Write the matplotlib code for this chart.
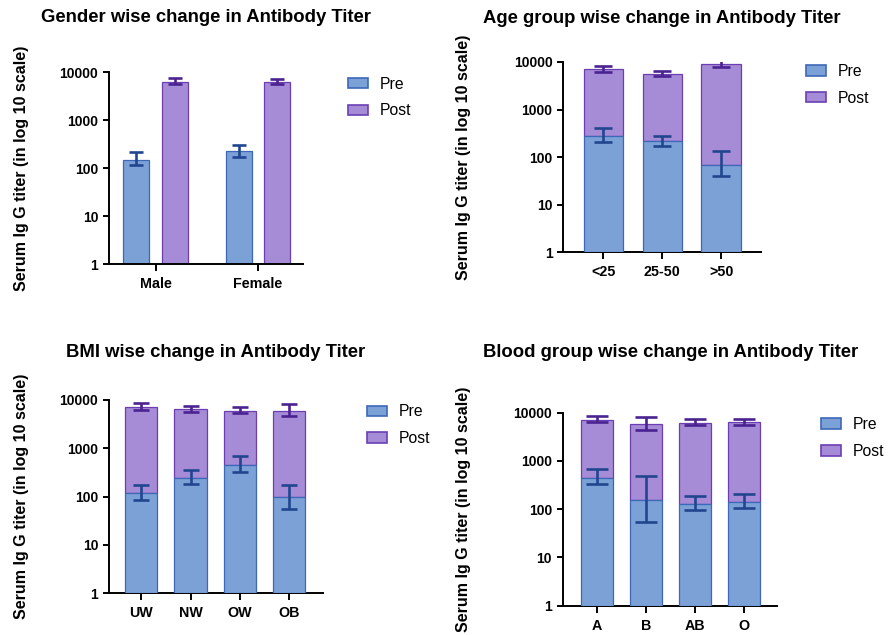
import numpy as np
import matplotlib
matplotlib.use('Agg')
import matplotlib.pyplot as plt
from matplotlib.patches import Patch
from matplotlib.ticker import FixedLocator, FixedFormatter, NullLocator

plt.rcParams['font.family'] = ['Liberation Sans', 'DejaVu Sans']

# datos (valor medio, error superior, error inferior)
gen_cat = ['Male', 'Female']
gen_pre = [150, 227]
gen_pre_hi = [215, 303]
gen_pre_lo = [115, 176]
gen_post = [6400, 6400]
gen_post_hi = [7600, 7300]
gen_post_lo = [5600, 5600]

age_cat = ['<25', '25-50', '>50']
age_pre = [284, 220, 70]
age_pre_hi = [404, 284, 133]
age_pre_lo = [210, 170, 39.5]
age_post = [7060, 5720, 9270]
age_post_hi = [8400, 6600, 11200]
age_post_lo = [6100, 5040, 7780]

bmi_cat = ['UW', 'NW', 'OW', 'OB']
bmi_pre = [118, 246, 456, 98]
bmi_pre_hi = [176, 348, 676, 176]
bmi_pre_lo = [83.5, 179, 321, 55]
bmi_post = [7060, 6540, 6040, 6040]
bmi_post_hi = [8530, 7550, 7060, 8300]
bmi_post_lo = [6240, 5760, 5310, 4760]

bg_cat = ['A', 'B', 'AB', 'O']
bg_pre = [447, 155, 130, 143]
bg_pre_hi = [665, 484, 184, 206]
bg_pre_lo = [331, 53.5, 94.6, 104]
bg_post = [7170, 5740, 6210, 6410]
bg_post_hi = [8670, 8130, 7510, 7510]
bg_post_lo = [6520, 4390, 5560, 5650]

y_ticks = [1, 10, 100, 1000, 10000]
y_labels = ['1', '10', '100', '1000', '10000']
ylab = 'Serum Ig G titer (in log 10 scale)'

c_pre = '#7CA1D6'
e_pre = '#3D68B8'
k_pre = '#21468F'
c_post = '#A68BD6'
e_post = '#6B3FB3'
k_post = '#4A2391'

W, H = 895, 635
fig = plt.figure(figsize=(W / 100, H / 100), dpi=100)


def px(x, y):
    return x / W, 1 - y / H


def estilo(ax, cats, xlim):
    ax.set_yscale('log')
    ax.set_ylim(1, 10000)
    ax.set_xlim(*xlim)
    ax.yaxis.set_major_locator(FixedLocator(y_ticks))
    ax.yaxis.set_major_formatter(FixedFormatter(y_labels))
    ax.yaxis.set_minor_locator(NullLocator())
    ax.set_xticks(range(len(cats)))
    ax.set_xticklabels(cats)
    for s in ['top', 'right']:
        ax.spines[s].set_visible(False)
    for s in ['left', 'bottom']:
        ax.spines[s].set_linewidth(1.4)
    ax.tick_params(axis='y', length=4.5, width=1.4, pad=3.5, labelsize=10)
    ax.tick_params(axis='x', length=5, width=1.4, pad=4.3, labelsize=10.3)
    for t in ax.get_xticklabels() + ax.get_yticklabels():
        t.set_fontweight('bold')


def leyenda(x, y):
    h = [Patch(facecolor=c_pre, edgecolor=e_pre, lw=1.2, label='Pre'),
         Patch(facecolor=c_post, edgecolor=e_post, lw=1.2, label='Post')]
    fig.legend(handles=h, loc='center left', bbox_to_anchor=px(x, y),
               frameon=False, fontsize=11.3, handlelength=1.3, handleheight=0.65,
               handletextpad=0.75, labelspacing=0.75, borderpad=0, borderaxespad=0)


def errores(ax, x, v, hi, lo, color, cap):
    v = np.array(v); hi = np.array(hi); lo = np.array(lo)
    ax.errorbar(x, v, yerr=[v - lo, hi - v], fmt='none', ecolor=color,
                elinewidth=1.9, capsize=cap, capthick=1.9, zorder=4)


def apilado(ax, cats, pre, pre_hi, pre_lo, post, post_hi, post_lo, ancho, cap):
    x = np.arange(len(cats))
    pre = np.array(pre); post = np.array(post)
    ax.bar(x, post - pre, bottom=pre, width=ancho, color=c_post, edgecolor=e_post, lw=0.9, zorder=2)
    ax.bar(x, pre - 1, bottom=1, width=ancho, color=c_pre, edgecolor=e_pre, lw=0.9, zorder=3)
    errores(ax, x, pre, pre_hi, pre_lo, k_pre, cap)
    errores(ax, x, post, post_hi, post_lo, k_post, cap)


# panel 1: genero (barras agrupadas)
ax1 = fig.add_axes([0.1223, 0.5835, 0.2162, 0.3026])
x = np.arange(len(gen_cat))
ax1.bar(x - 0.19, np.array(gen_pre) - 1, bottom=1, width=0.254, color=c_pre, edgecolor=e_pre, lw=0.9)
ax1.bar(x + 0.19, np.array(gen_post) - 1, bottom=1, width=0.254, color=c_post, edgecolor=e_post, lw=0.9)
errores(ax1, x - 0.19, gen_pre, gen_pre_hi, gen_pre_lo, k_pre, 4.9)
errores(ax1, x + 0.19, gen_post, gen_post_hi, gen_post_lo, k_post, 4.9)
estilo(ax1, gen_cat, (-0.452, 1.44))

# panel 2: edad
ax2 = fig.add_axes([0.6296, 0.6027, 0.2207, 0.2997])
apilado(ax2, age_cat, age_pre, age_pre_hi, age_pre_lo, age_post, age_post_hi, age_post_lo, 0.67, 6.8)
estilo(ax2, age_cat, (-0.676, 2.676))

# panel 3: IMC
ax3 = fig.add_axes([0.1221, 0.0661, 0.2384, 0.3040])
apilado(ax3, bmi_cat, bmi_pre, bmi_pre_hi, bmi_pre_lo, bmi_post, bmi_post_hi, bmi_post_lo, 0.655, 6)
estilo(ax3, bmi_cat, (-0.65, 3.677))

# panel 4: grupo sanguineo
ax4 = fig.add_axes([0.6291, 0.0461, 0.2387, 0.3040])
apilado(ax4, bg_cat, bg_pre, bg_pre_hi, bg_pre_lo, bg_post, bg_post_hi, bg_post_lo, 0.66, 8)
estilo(ax4, bg_cat, (-0.70, 3.67))

titulos = [('Gender wise change in Antibody Titer', 206.5, 22.5),
           ('Age group wise change in Antibody Titer', 662.3, 23.3),
           ('BMI wise change in Antibody Titer', 215.5, 356.7),
           ('Blood group wise change in Antibody Titer', 670.8, 356.7)]
for t, tx, ty in titulos:
    fig.text(*px(tx, ty), t, ha='center', va='baseline', fontsize=13.3, fontweight='bold')

for ax, lx in [(ax1, 22), (ax2, 464), (ax3, 22), (ax4, 464)]:
    b = ax.get_position()
    fig.text(lx / W, (b.y0 + b.y1) / 2, ylab, rotation=90, ha='center', va='center',
             fontsize=11.5, fontweight='bold')

leyenda(348, 97.5)
leyenda(805.7, 84.7)
leyenda(367, 425.3)
leyenda(820.7, 437.9)

fig.savefig('out.png', dpi=100, facecolor='white')
